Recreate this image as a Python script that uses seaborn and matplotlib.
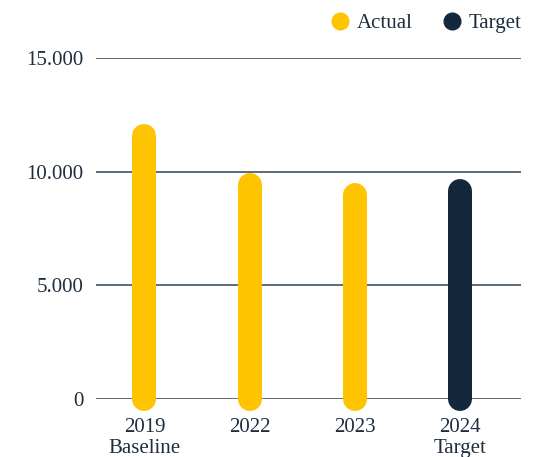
import matplotlib
matplotlib.use("Agg")
import matplotlib.pyplot as plt
from matplotlib.lines import Line2D
import seaborn as sns
import pandas as pd

# Emissions-style progress chart: actual years vs. the 2024 target
years = ["2019", "2022", "2023", "2024"]
notes = ["Baseline", "", "", "Target"]
values = [11600, 9400, 9000, 9150]
kinds = ["Actual", "Actual", "Actual", "Target"]
y_ticks = [0, 5000, 10000, 15000]
y_tick_labels = ["0", "5.000", "10.000", "15.000"]

GOLD = "#FFC400"
NAVY = "#13273D"
TEXT = "#1E2D3F"
GRID = "#4F5F70"

sns.set_theme(style="white")
plt.rcParams["font.family"] = ["Liberation Serif", "DejaVu Serif"]

labels = [f"{y}\n{n}" if n else y for y, n in zip(years, notes)]
df = pd.DataFrame({"label": labels, "value": values, "kind": kinds})

fig = plt.figure(figsize=(5.48, 4.57), dpi=100)
W, H = 548, 457
ax = fig.add_axes([96 / W, (H - 399) / H, (521 - 96) / W, (399 - 58.3) / H])

sns.barplot(data=df, x="label", y="value", hue="kind",
            palette={"Actual": GOLD, "Target": NAVY}, saturation=1,
            dodge=False, width=0.2, legend=False, ax=ax)

# Replace the rectangular bars with pill-shaped (round-capped) strokes
bar_px = 24
for p in list(ax.patches):
    h = p.get_height()
    if h <= 0:
        continue
    cx = p.get_x() + p.get_width() / 2
    color = p.get_facecolor()
    p.set_visible(False)
    ax.plot([cx, cx], [0, h], color=color, lw=bar_px * 0.72,
            solid_capstyle="round", clip_on=False, zorder=3)

ax.set_ylim(0, 15000)
ax.set_xlim(-0.46, 3.58)
ax.set_yticks(y_ticks)
ax.set_yticklabels(y_tick_labels)
ax.set_xlabel("")
ax.set_ylabel("")
for s in ax.spines.values():
    s.set_visible(False)
for yv in y_ticks:
    ax.axhline(yv, color=GRID, lw=1.3, zorder=1)

ax.tick_params(axis="y", length=0, pad=9, labelsize=15, labelcolor=TEXT)
ax.tick_params(axis="x", length=0, pad=14, labelsize=15, labelcolor=TEXT)
for t in ax.get_xticklabels():
    t.set_linespacing(1.1)

handles = [
    Line2D([], [], marker="o", ls="", markersize=12, color=GOLD, label="Actual"),
    Line2D([], [], marker="o", ls="", markersize=12, color=NAVY, label="Target"),
]
leg = fig.legend(handles=handles, loc="center right",
                 bbox_to_anchor=(530 / W, 1 - 23 / H), ncol=2, frameon=False,
                 fontsize=15, handletextpad=0.3, columnspacing=1.4,
                 handlelength=1.0, borderaxespad=0)
for t in leg.get_texts():
    t.set_color(TEXT)

fig.savefig("out.png", dpi=100)
